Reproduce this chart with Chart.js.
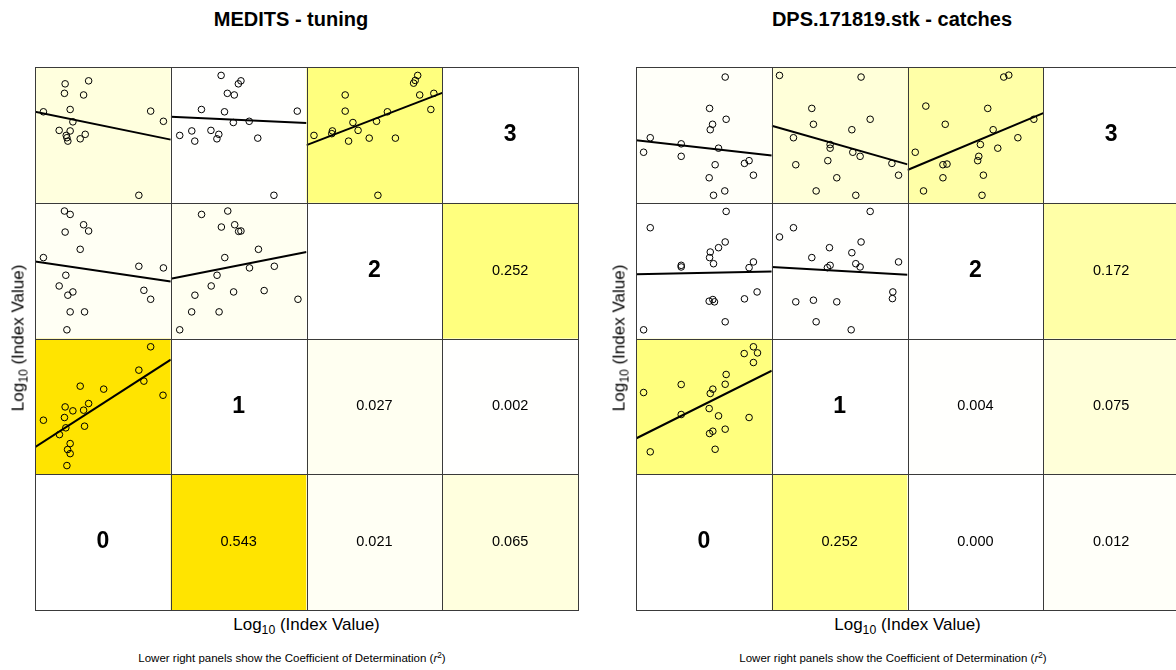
<!DOCTYPE html>
<html><head><meta charset="utf-8">
<script src="https://cdn.jsdelivr.net/npm/chart.js@4.4.1/dist/chart.umd.min.js"></script>
<style>
html,body{margin:0;padding:0;background:#fff;overflow:hidden;width:1176px;height:670px;}
body{position:relative;font-family:"Liberation Sans",Arial,sans-serif;color:#000;}
.title{position:absolute;top:9px;font-weight:bold;font-size:20px;line-height:1;white-space:nowrap;transform:translateX(-50%);}
.xlab{position:absolute;top:616px;font-size:17px;line-height:1;white-space:nowrap;transform:translateX(-50%);}
.ylab{position:absolute;font-size:17px;line-height:1;white-space:nowrap;transform:translate(-50%,-50%) rotate(-90deg);}
.note{position:absolute;top:653px;font-size:11.5px;line-height:1;white-space:nowrap;transform:translateX(-50%);}
sub{font-size:0.72em;vertical-align:-0.3em;line-height:0;}
sup{font-size:0.72em;vertical-align:0.45em;line-height:0;}
canvas{position:absolute;}
</style>
</head><body>
<div class="title" style="left:291px">MEDITS - tuning</div>
<div class="title" style="left:892px">DPS.171819.stk - catches</div>
<canvas id="cL" width="553" height="553" style="left:30px;top:62px"></canvas>
<canvas id="cR" width="553" height="553" style="left:631px;top:62px"></canvas>
<div class="xlab" style="left:306.5px">Log<sub>10</sub> (Index Value)</div>
<div class="xlab" style="left:907.5px">Log<sub>10</sub> (Index Value)</div>
<div class="ylab" style="left:18px;top:338px">Log<sub>10</sub> (Index Value)</div>
<div class="ylab" style="left:619px;top:338px">Log<sub>10</sub> (Index Value)</div>
<div class="note" style="left:292px">Lower right panels show the Coefficient of Determination (<i>r</i><sup>2</sup>)</div>
<div class="note" style="left:893px">Lower right panels show the Coefficient of Determination (<i>r</i><sup>2</sup>)</div>
<script>
// ---------- DATA (log10 index values, arbitrary common units 0-10 per age) ----------
const AGES = ['0','1','2','3'];
// pair order for r-squared: [yAge, xAge]
const PAIRS = [[1,0],[2,0],[3,0],[2,1],[3,1],[3,2]];

// MEDITS - tuning
const medits_r2 = [0.543, 0.021, 0.065, 0.027, 0.002, 0.252];
const medits_a3_a0_x = [0.62,2.22,2.17,3.95,3.58,2.59,2.79,1.78,2.59,2.30,2.35,2.42,3.33,3.70,8.52,9.46,7.65];
const medits_a3_a0_y = [6.70,8.76,8.06,8.98,7.94,6.87,5.96,5.33,5.29,4.96,4.79,4.54,4.71,5.04,6.75,6.00,0.55];
const medits_a3_a1_x = [3.71,4.98,5.17,4.17,4.68,2.26,3.96,4.61,5.78,9.32,0.66,1.55,1.77,2.96,3.54,3.40,6.41,7.60];
const medits_a3_a1_y = [9.38,8.76,8.98,8.06,7.94,6.87,6.70,5.91,6.00,6.75,4.96,5.29,4.54,5.33,5.04,4.71,4.76,0.55];
const medits_a3_a2_x = [8.19,7.89,8.01,2.85,8.34,9.38,2.85,9.16,5.96,3.42,5.16,0.55,1.91,1.86,3.80,3.10,4.62,6.55,5.26];
const medits_a3_a2_y = [9.38,8.81,9.01,7.94,7.94,8.06,6.75,6.87,6.70,5.91,6.00,4.96,5.29,5.09,5.33,4.54,4.76,4.76,0.55];
const medits_a2_a0_x = [2.17,2.59,2.22,3.58,3.95,3.33,0.62,7.65,9.46,2.27,1.78,2.42,2.79,8.02,8.52,2.59,3.65,2.35];
const medits_a2_a0_y = [9.39,9.14,7.84,8.38,7.92,6.57,5.96,5.32,5.20,4.66,3.87,3.19,3.43,3.55,2.89,1.96,1.96,0.64];
const medits_a2_a1_x = [2.27,4.20,3.73,4.71,5.00,5.17,6.46,3.98,5.80,7.63,3.41,2.98,1.78,4.63,6.88,9.37,1.54,3.56,0.66];
const medits_a2_a1_y = [9.14,9.39,8.21,8.38,7.89,7.92,6.57,5.96,5.20,5.32,4.66,3.87,3.19,3.43,3.53,2.89,1.96,1.96,0.64];
const medits_a1_a0_x = [8.52,7.65,8.02,3.33,5.06,9.43,2.22,2.79,3.58,3.95,0.62,2.17,2.27,1.80,3.65,2.59,2.40,2.59,2.35];
const medits_a1_a0_y = [9.39,7.67,6.86,6.49,6.27,5.82,4.96,4.67,4.72,5.21,3.98,4.18,3.42,2.92,3.54,2.26,1.82,1.52,0.64];

// DPS.171819.stk - catches
const dps_r2 = [0.252, 0.000, 0.012, 0.004, 0.075, 0.172];
const dps_a3_a0_x = [6.57,5.42,6.64,5.64,5.47,1.05,3.33,0.56,3.33,6.08,5.83,7.99,8.33,8.65,5.39,6.54,5.71];
const dps_a3_a0_y = [9.26,6.95,6.15,5.78,5.38,4.79,4.34,3.72,3.42,4.02,2.80,2.90,3.10,2.03,1.84,0.87,0.55];
const dps_a3_a1_x = [0.57,6.58,2.95,7.25,3.07,5.90,1.60,4.30,4.30,5.97,6.51,4.13,1.77,8.85,9.34,4.79,3.27,6.19];
const dps_a3_a1_y = [9.38,9.26,6.95,6.15,5.78,5.38,4.79,4.29,4.02,3.72,3.42,3.10,2.80,2.90,2.03,1.84,0.87,0.55];
const dps_a3_a2_x = [7.09,7.46,1.35,5.91,2.78,6.31,9.31,8.13,5.37,6.65,0.57,5.25,5.17,2.61,2.91,5.59,2.61,1.18,5.49];
const dps_a3_a2_y = [9.26,9.40,7.12,6.95,5.78,5.38,6.15,4.79,4.29,4.02,3.72,3.42,3.10,2.80,2.85,2.03,1.84,0.87,0.55];
const dps_a2_a0_x = [6.64,1.05,6.57,6.08,5.47,5.42,5.71,3.33,3.33,8.65,8.33,8.92,7.99,5.39,5.66,5.78,6.57,0.56];
const dps_a2_a0_y = [9.36,8.16,7.11,6.69,6.37,5.96,5.51,5.39,5.27,5.64,5.22,3.43,2.92,2.75,2.87,2.70,1.23,0.64];
const dps_a2_a1_x = [7.25,1.60,0.57,6.58,4.25,5.90,2.95,9.34,6.19,6.51,4.30,4.10,8.92,8.89,1.77,3.07,4.79,3.27,5.85];
const dps_a2_a1_y = [9.36,8.16,7.48,7.11,6.69,6.32,5.96,5.64,5.51,5.27,5.39,5.22,3.43,2.94,2.70,2.82,2.70,1.23,0.64];
const dps_a1_a0_x = [8.65,7.97,8.95,8.65,6.64,6.57,3.33,0.56,5.66,5.47,5.39,3.33,6.08,8.33,6.57,5.66,5.42,1.05,5.83];
const dps_a1_a0_y = [9.39,8.89,8.94,8.23,7.35,6.63,6.61,6.02,6.27,5.95,4.84,4.40,4.30,4.18,3.32,3.17,3.00,1.65,1.84];

// ---------- STYLE ----------
const AX_MIN = 0, AX_MAX = 10;
const FONT = '"Liberation Sans", Arial, sans-serif';
const R2_STOPS = [[0,[255,255,255]],[0.5,[255,255,0]],[0.55,[255,224,0]],[1,[255,190,0]]];
function r2Color(r){
  for (let i=1;i<R2_STOPS.length;i++){
    if (r <= R2_STOPS[i][0]){
      const [r0,c0]=R2_STOPS[i-1],[r1,c1]=R2_STOPS[i];
      const t=(r-r0)/(r1-r0);
      const c=c0.map((v,k)=>Math.round(v+(c1[k]-v)*t));
      return `rgb(${c[0]},${c[1]},${c[2]})`;
    }
  }
  const c=R2_STOPS[R2_STOPS.length-1][1]; return `rgb(${c[0]},${c[1]},${c[2]})`;
}
function lmFit(xs, ys){
  const n=xs.length, mx=xs.reduce((s,v)=>s+v,0)/n, my=ys.reduce((s,v)=>s+v,0)/n;
  let sxy=0,sxx=0;
  for(let i=0;i<n;i++){sxy+=(xs[i]-mx)*(ys[i]-my);sxx+=(xs[i]-mx)*(xs[i]-mx);}
  const b=sxy/sxx; return {a:my-b*mx,b};
}
const pairsPlugin = {
  id:'pairs',
  beforeDatasetsDraw(chart, args, opts){
    const ctx=chart.ctx, s=chart.scales;
    ctx.save();
    for(let c=0;c<4;c++){
      for(let a=0;a<4;a++){
        const xs=s['x'+c], ys=s['y'+a];
        const L=xs.left, R=xs.right, T=ys.top, B=ys.bottom;
        let fill='#ffffff';
        if(c!==a){
          const hi=Math.max(c,a), lo=Math.min(c,a);
          const k=PAIRS.findIndex(p=>p[0]===hi&&p[1]===lo);
          fill=r2Color(opts.r2[k]);
        }
        ctx.fillStyle=fill; ctx.fillRect(L,T,R-L,B-T);
        ctx.fillStyle='#000'; ctx.textAlign='center'; ctx.textBaseline='middle';
        if(c===a){
          ctx.font='bold 23px '+FONT;
          ctx.fillText(AGES[a],(L+R)/2,(T+B)/2);
        } else if(c>a){
          const k=PAIRS.findIndex(p=>p[0]===c&&p[1]===a);
          ctx.font='14.5px '+FONT;
          ctx.fillText(opts.r2[k].toFixed(3),(L+R)/2,(T+B)/2);
        }
      }
    }
    ctx.restore();
  },
  afterDatasetsDraw(chart){
    const ctx=chart.ctx, s=chart.scales;
    ctx.save(); ctx.strokeStyle='#3a3a3a'; ctx.lineWidth=1;
    for(let c=0;c<4;c++) for(let a=0;a<4;a++){
      const xs=s['x'+c], ys=s['y'+a];
      const L=Math.round(xs.left)+0.5, R=Math.round(xs.right)+0.5, T=Math.round(ys.top)+0.5, B=Math.round(ys.bottom)+0.5;
      ctx.strokeRect(L,T,R-L,B-T);
    }
    ctx.restore();
  }
};
function hiddenAxis(pos, stack){
  return {type:'linear',position:pos,stack:stack,stackWeight:1,min:AX_MIN,max:AX_MAX,
    ticks:{display:false},grid:{display:false,drawTicks:false},border:{display:false},title:{display:false}};
}
function buildMatrix(id, cells, r2){
  const scales={};
  for(let c=0;c<4;c++) scales['x'+c]=hiddenAxis('bottom','cols');
  for(let a=0;a<4;a++) scales['y'+a]=hiddenAxis('left','rows');
  const datasets=[];
  cells.forEach(cell=>{
    const pts=cell.x.map((v,i)=>({x:v,y:cell.y[i]}));
    datasets.push({data:pts,xAxisID:'x'+cell.xa,yAxisID:'y'+cell.ya,
      pointRadius:3.3,pointBorderWidth:1,pointBorderColor:'#000',pointBackgroundColor:'rgba(0,0,0,0)',showLine:false});
    const f=lmFit(cell.x,cell.y);
    datasets.push({data:[{x:AX_MIN,y:f.a+f.b*AX_MIN},{x:AX_MAX,y:f.a+f.b*AX_MAX}],xAxisID:'x'+cell.xa,yAxisID:'y'+cell.ya,
      showLine:true,borderColor:'#000',borderWidth:2,pointRadius:0,fill:false});
  });
  new Chart(document.getElementById(id),{
    type:'scatter',
    data:{datasets},
    options:{responsive:false,animation:false,devicePixelRatio:1,
      layout:{padding:5},
      scales,
      plugins:{legend:{display:false},tooltip:{enabled:false},title:{display:false},pairs:{r2}}},
    plugins:[pairsPlugin]
  });
}
buildMatrix('cL',[
  {xa:0,ya:3,x:medits_a3_a0_x,y:medits_a3_a0_y},
  {xa:1,ya:3,x:medits_a3_a1_x,y:medits_a3_a1_y},
  {xa:2,ya:3,x:medits_a3_a2_x,y:medits_a3_a2_y},
  {xa:0,ya:2,x:medits_a2_a0_x,y:medits_a2_a0_y},
  {xa:1,ya:2,x:medits_a2_a1_x,y:medits_a2_a1_y},
  {xa:0,ya:1,x:medits_a1_a0_x,y:medits_a1_a0_y}
], medits_r2);
buildMatrix('cR',[
  {xa:0,ya:3,x:dps_a3_a0_x,y:dps_a3_a0_y},
  {xa:1,ya:3,x:dps_a3_a1_x,y:dps_a3_a1_y},
  {xa:2,ya:3,x:dps_a3_a2_x,y:dps_a3_a2_y},
  {xa:0,ya:2,x:dps_a2_a0_x,y:dps_a2_a0_y},
  {xa:1,ya:2,x:dps_a2_a1_x,y:dps_a2_a1_y},
  {xa:0,ya:1,x:dps_a1_a0_x,y:dps_a1_a0_y}
], dps_r2);
</script>
</body></html>
